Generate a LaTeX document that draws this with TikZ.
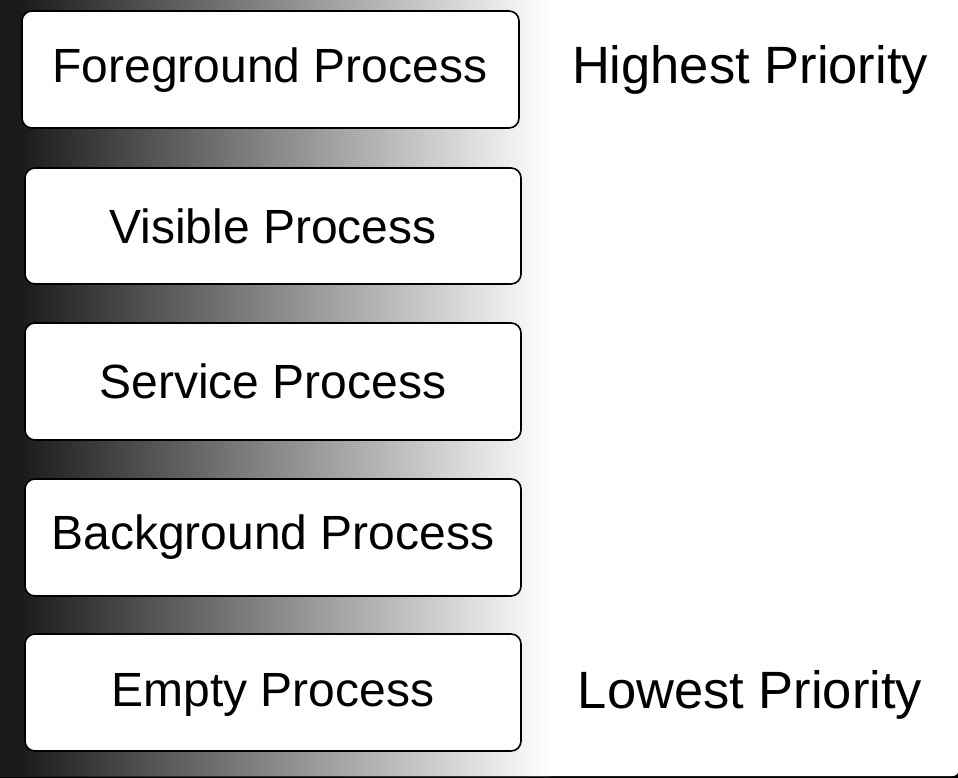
\documentclass[tikz,border=0pt]{standalone}
\usepackage{fontspec}
\setmainfont{Liberation Sans}
\definecolor{shadedark}{HTML}{1A1A1A}
\begin{document}
\begin{tikzpicture}[x=1pt,y=-1pt,
  procbox/.style={draw=black,line width=1.6pt,fill=white,rounded corners=10pt},
  proclabel/.style={font=\fontsize{48}{58}\selectfont,anchor=base},
  prioritylabel/.style={font=\fontsize{52.5}{62}\selectfont,anchor=base}]
  \useasboundingbox (0,0) rectangle (958,778);
  % dark surround with the rounded panel on top
  \fill[black] (0,0) rectangle (958,778);
  \fill[white,rounded corners=6pt] (-12,-12) rectangle (958.5,776);
  \begin{scope}
    \clip[rounded corners=6pt] (-12,-12) rectangle (958.5,776);
    \fill[shadedark] (-12,-12) rectangle (18,790);
    \shade[left color=shadedark,right color=white] (18,-12) rectangle (550,790);
  \end{scope}
  % process boxes
  \draw[procbox] (22,11) rectangle (519,128);
  \draw[procbox] (25,168) rectangle (521,284);
  \draw[procbox] (25,323) rectangle (521,440);
  \draw[procbox] (25,479) rectangle (521,596);
  \draw[procbox] (25,634) rectangle (521,751);
  \node[proclabel] (fg) at (270,83) {Foreground Process};
  \node[proclabel] (vis) at (273,243) {Visible Process};
  \node[proclabel] (svc) at (273,398) {Service Process};
  \node[proclabel] (bg) at (273,549) {Background Process};
  \node[proclabel] (empty) at (273,706) {Empty Process};
  \node[prioritylabel] (high) at (750,84) {Highest Priority};
  \node[prioritylabel] (low) at (750,708) {Lowest Priority};
\end{tikzpicture}
\end{document}
